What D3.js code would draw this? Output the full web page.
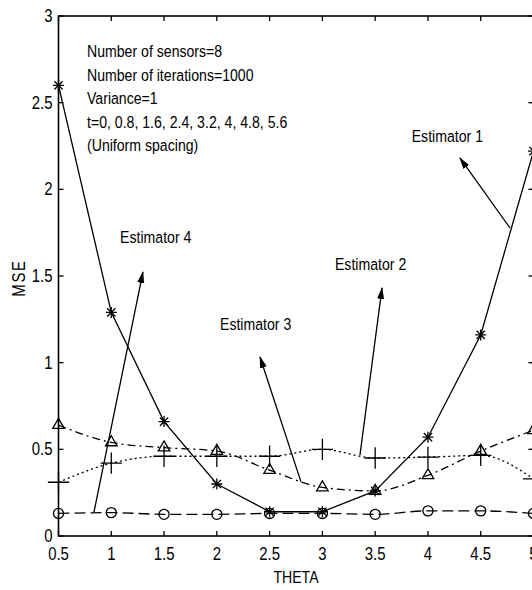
<!DOCTYPE html>
<html>
<head>
<meta charset="utf-8">
<script src="https://cdn.jsdelivr.net/npm/d3@7"></script>
<style>
  body { margin: 0; background: #fff; }
  svg { display: block; overflow: hidden; }
  text { font-family: "Liberation Sans", Arial, sans-serif; fill: #000; }
</style>
</head>
<body>
<svg width="532" height="590"></svg>
<script>
// data
const theta = [0.5, 1, 1.5, 2, 2.5, 3, 3.5, 4, 4.5, 5];
const est1 = [2.60, 1.29, 0.66, 0.30, 0.14, 0.14, 0.26, 0.57, 1.16, 2.22];
const est2 = [0.31, 0.42, 0.46, 0.46, 0.46, 0.50, 0.45, 0.455, 0.465, 0.33];
const est3 = [0.64, 0.54, 0.51, 0.49, 0.38, 0.28, 0.26, 0.35, 0.49, 0.61];
const est4 = [0.13, 0.135, 0.125, 0.125, 0.13, 0.13, 0.125, 0.145, 0.145, 0.13];

const xTicks = [0.5, 1, 1.5, 2, 2.5, 3, 3.5, 4, 4.5, 5];
const yTicks = [0, 0.5, 1, 1.5, 2, 2.5, 3];

const infoLines = ["Number of sensors=8", "Number of iterations=1000", "Variance=1",
  "t=0, 0.8, 1.6, 2.4, 3.2, 4, 4.8, 5.6", "(Uniform spacing)"];

// annotation arrows, in data units: label corner, arrow tail, arrow head
const notes = [
  { label: "Estimator 1", at: [3.846, 2.275], from: [4.777, 1.777], to: [4.303, 2.181] },
  { label: "Estimator 2", at: [3.119, 1.535], from: [3.356, 0.467], to: [3.565, 1.431] },
  { label: "Estimator 3", at: [2.03, 1.188], from: [2.797, 0.312], to: [2.409, 1.033] },
  { label: "Estimator 4", at: [1.083, 1.69], from: [0.836, 0.138], to: [1.30, 1.523] }
];

const svg = d3.select("svg");
const margin = { top: 16, left: 58.5 };
const plotW = 475, plotH = 520;
const squeeze = 0.83; // the original uses a condensed face

const x = d3.scaleLinear().domain([0.5, 5]).range([margin.left, margin.left + plotW]);
const y = d3.scaleLinear().domain([0, 3]).range([margin.top + plotH, margin.top]);

// condensed text helper
function label(px, py, str, anchor, size, rot) {
  return svg.append("text")
    .attr("transform", `translate(${px},${py})${rot ? ` rotate(${rot})` : ""} scale(${squeeze},1)`)
    .attr("text-anchor", anchor || "start")
    .attr("font-size", size || 17)
    .text(str);
}

// matlab-ish asterisk: plus and cross together
const asterisk = {
  draw(ctx, size) {
    const r = Math.sqrt(size) / 2, d = r * 0.75;
    ctx.moveTo(0, -r); ctx.lineTo(0, r);
    ctx.moveTo(-r, 0); ctx.lineTo(r, 0);
    ctx.moveTo(-d, -d); ctx.lineTo(d, d);
    ctx.moveTo(-d, d); ctx.lineTo(d, -d);
  }
};

const series = [
  { values: est1, dash: null, symbol: asterisk, size: 121, curve: d3.curveLinear },
  { values: est2, dash: "2,3", symbol: d3.symbolPlus, size: 150, curve: d3.curveMonotoneX },
  { values: est3, dash: "8,4,2,4", symbol: d3.symbolTriangle2, size: 95, curve: d3.curveMonotoneX },
  { values: est4, dash: "11,5", symbol: d3.symbolCircle, size: 80, curve: d3.curveMonotoneX }
];

svg.append("defs").append("marker")
  .attr("id", "head")
  .attr("markerUnits", "userSpaceOnUse")
  .attr("viewBox", "0 -5 12 10")
  .attr("refX", 11).attr("refY", 0)
  .attr("markerWidth", 12).attr("markerHeight", 10)
  .attr("orient", "auto")
  .append("path").attr("d", "M0,-3.5L12,0L0,3.5Z").attr("fill", "#000");

// lines
series.forEach(s => {
  const pts = theta.map((t, i) => [t, s.values[i]]);
  const line = d3.line().curve(s.curve).x(d => x(d[0])).y(d => y(d[1]));
  svg.append("path")
    .attr("d", line(pts))
    .attr("fill", "none")
    .attr("stroke", "#000")
    .attr("stroke-width", 1.3)
    .attr("stroke-dasharray", s.dash);
  svg.append("g").selectAll("path")
    .data(pts).enter().append("path")
    .attr("transform", d => `translate(${x(d[0])},${y(d[1])})`)
    .attr("d", d3.symbol().type(s.symbol).size(s.size))
    .attr("fill", "none")
    .attr("stroke", "#000")
    .attr("stroke-width", 1.3);
});

// frame with inward ticks on all sides
const x0 = x(0.5), x1 = x(5), y0 = y(0), y1 = y(3);
svg.append("rect")
  .attr("x", x0).attr("y", y1).attr("width", x1 - x0).attr("height", y0 - y1)
  .attr("fill", "none").attr("stroke", "#000").attr("stroke-width", 1.6);

const tickLen = 5;
const ticks = svg.append("g").attr("stroke", "#000").attr("stroke-width", 1.3);
xTicks.forEach(t => {
  ticks.append("line").attr("x1", x(t)).attr("x2", x(t)).attr("y1", y0).attr("y2", y0 - tickLen);
  ticks.append("line").attr("x1", x(t)).attr("x2", x(t)).attr("y1", y1).attr("y2", y1 + tickLen);
});
yTicks.forEach(t => {
  ticks.append("line").attr("x1", x0).attr("x2", x0 + tickLen).attr("y1", y(t)).attr("y2", y(t));
  ticks.append("line").attr("x1", x1).attr("x2", x1 - tickLen).attr("y1", y(t)).attr("y2", y(t));
});

xTicks.forEach(t => label(x(t), y0 + 24, t, "middle", 18));
yTicks.forEach(t => label(x0 - 6, y(t) + 6, t, "end", 18));

// axis titles
label((x0 + x1) / 2, 583, "THETA", "middle", 17);
label(25, 278, "MSE", "middle", 18, -90).attr("letter-spacing", 2);

// parameter block
infoLines.forEach((s, i) => label(x(0.77), y(2.763) + i * 23.5, s, "start", 17));

// estimator labels and arrows
notes.forEach(n => {
  svg.append("line")
    .attr("x1", x(n.from[0])).attr("y1", y(n.from[1]))
    .attr("x2", x(n.to[0])).attr("y2", y(n.to[1]))
    .attr("stroke", "#000").attr("stroke-width", 1.3)
    .attr("marker-end", "url(#head)");
  label(x(n.at[0]), y(n.at[1]), n.label, "start", 17);
});
</script>
</body>
</html>
